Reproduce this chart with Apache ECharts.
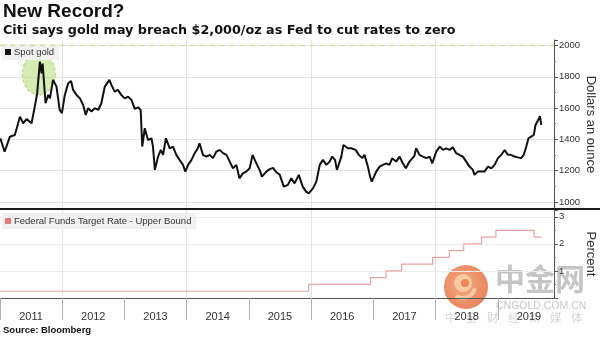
<!DOCTYPE html>
<html>
<head>
<meta charset="utf-8">
<script src="https://cdn.jsdelivr.net/npm/echarts@6/dist/echarts.min.js"></script>
<style>
  html, body { margin: 0; padding: 0; background: #fff; }
  #chart { width: 600px; height: 337px; }
</style>
</head>
<body>
<div id="chart"></div>
<script>
// Spot gold, US$ per ounce
const goldDates = [
  '2011-01-03','2011-01-28','2011-02-28','2011-03-29','2011-04-28','2011-05-17','2011-06-06','2011-07-05',
  '2011-07-24','2011-08-07','2011-08-23','2011-09-02','2011-09-08','2011-09-25','2011-10-11','2011-10-21',
  '2011-11-08','2011-11-28','2011-12-17','2011-12-30',
  '2012-01-16','2012-02-05','2012-02-22','2012-03-05','2012-03-25','2012-04-14','2012-05-03','2012-05-18',
  '2012-06-01','2012-06-21','2012-07-10','2012-07-30','2012-08-18','2012-09-07','2012-10-04','2012-10-16',
  '2012-11-04','2012-11-23','2012-12-13',
  '2013-01-03','2013-01-22','2013-02-11','2013-03-02','2013-03-22','2013-04-06','2013-04-15','2013-04-30',
  '2013-05-19','2013-06-08','2013-06-17','2013-06-28','2013-07-17','2013-08-02','2013-08-15','2013-09-01',
  '2013-09-23','2013-10-12','2013-11-01','2013-11-20','2013-12-10','2013-12-24',
  '2014-01-09','2014-01-29','2014-02-17','2014-03-07','2014-03-17','2014-04-06','2014-04-26','2014-05-16',
  '2014-06-04','2014-06-24','2014-07-13','2014-08-02','2014-08-22','2014-09-10','2014-09-29','2014-10-19',
  '2014-11-06','2014-11-26','2014-12-16',
  '2015-01-05','2015-01-22','2015-02-13','2015-03-04','2015-03-18','2015-04-13','2015-05-02','2015-05-22',
  '2015-06-10','2015-06-30','2015-07-24','2015-08-17','2015-09-06','2015-09-25','2015-10-20','2015-11-12',
  '2015-12-02','2015-12-17',
  '2016-01-11','2016-01-31','2016-02-20','2016-03-10','2016-03-30','2016-04-18','2016-05-03','2016-05-20',
  '2016-05-31','2016-06-26','2016-07-08','2016-08-04','2016-08-24','2016-09-18','2016-10-07','2016-10-27',
  '2016-11-09','2016-11-29','2016-12-12','2016-12-22',
  '2017-01-17','2017-02-06','2017-02-25','2017-03-17','2017-04-05','2017-04-20','2017-05-14','2017-06-03',
  '2017-06-22','2017-07-10','2017-07-31','2017-08-10','2017-08-29','2017-09-08','2017-09-28','2017-10-18',
  '2017-11-07','2017-11-26','2017-12-12',
  '2018-01-04','2018-01-25','2018-02-12','2018-03-03','2018-03-23','2018-04-11','2018-05-01','2018-05-20',
  '2018-06-09','2018-06-29','2018-07-18','2018-08-07','2018-08-16','2018-09-05','2018-09-25','2018-10-14',
  '2018-11-03','2018-11-23','2018-12-12',
  '2019-01-01','2019-01-20','2019-02-09','2019-02-28','2019-03-19','2019-04-08','2019-04-27','2019-05-17',
  '2019-06-01','2019-06-16','2019-06-29','2019-07-14','2019-07-30','2019-08-09','2019-08-19','2019-08-28',
  '2019-09-04','2019-09-12'
];
const goldPrices = [
  1407,1321,1417,1428,1545,1503,1530,1503,
  1609,1695,1897,1822,1884,1631,1684,1662,
  1780,1738,1588,1567,
  1684,1758,1773,1716,1684,1662,1620,1556,
  1599,1578,1599,1588,1631,1737,1780,1748,
  1705,1716,1684,
  1662,1673,1652,1595,1605,1588,1354,1471,
  1396,1407,1354,1205,1290,1333,1301,1407,
  1343,1354,1301,1269,1237,1194,
  1237,1269,1312,1343,1375,1301,1290,1301,
  1280,1322,1333,1312,1301,1258,1215,1237,
  1151,1183,1194,
  1215,1301,1247,1205,1162,1194,1210,1218,
  1190,1175,1098,1109,1151,1119,1173,1098,
  1066,1055,
  1087,1130,1237,1269,1237,1258,1290,1269,
  1205,1290,1364,1343,1343,1333,1301,1280,
  1301,1226,1162,1130,
  1194,1226,1237,1247,1237,1279,1258,1290,
  1247,1215,1258,1269,1295,1343,1301,1290,
  1280,1290,1247,
  1322,1354,1333,1343,1333,1349,1312,1301,
  1290,1258,1226,1205,1173,1194,1194,1194,
  1226,1215,1237,
  1280,1301,1332,1301,1301,1290,1285,1280,
  1301,1354,1407,1417,1428,1492,1503,1530,
  1549,1492
];

// Federal funds target rate, upper bound (%), effective dates of each change
const rateDates = [
  '2011-01-01','2015-12-17','2016-12-15','2017-03-16','2017-06-15','2017-12-14',
  '2018-03-22','2018-06-14','2018-09-27','2018-12-20','2019-08-01','2019-09-13'
];
const rateValues = [0.25, 0.5, 0.75, 1, 1.25, 1.5, 1.75, 2, 2.25, 2.5, 2.25, 2.25];

// 2011 record zone callout
const calloutDates = ['2011-08-17'];
const calloutValues = [1818];
const recordLevel = 2000;

const yearLabels = ['2011','2012','2013','2014','2015','2016','2017','2018','2019'];

// date string -> fractional year
function toYear(s) {
  const d = Date.parse(s + 'T00:00:00Z');
  const y = new Date(d).getUTCFullYear();
  const a = Date.UTC(y, 0, 1), b = Date.UTC(y + 1, 0, 1);
  return y + (d - a) / (b - a);
}

const goldData = goldDates.map((d, i) => [toYear(d), goldPrices[i]]);
const rateData = rateDates.map((d, i) => [toYear(d), rateValues[i]]);
const calloutData = calloutDates.map((d, i) => [toYear(d), calloutValues[i]]);

const X_MIN = 2011, X_MAX = 2019.9;
const FONT = 'Liberation Sans, Arial, sans-serif';
const HEAD_FONT = 'DejaVu Sans, Verdana, sans-serif';
const gridLineColors = ['rgba(0,0,0,0)', '#e3e3e3'];

const chart = echarts.init(document.getElementById('chart'), null, { renderer: 'canvas' });

chart.setOption({
  animation: false,
  backgroundColor: '#ffffff',
  textStyle: { fontFamily: FONT },
  title: [
    {
      text: 'New Record?',
      subtext: 'Citi says gold may breach $2,000/oz as Fed to cut rates to zero',
      left: 1, top: 0, itemGap: 3, padding: [2, 2],
      textStyle: { fontSize: 19, fontWeight: 'bold', color: '#111', fontFamily: FONT },
      subtextStyle: { fontSize: 12.75, fontWeight: 'bold', color: '#111', fontFamily: HEAD_FONT }
    },
    {
      text: 'Source: Bloomberg',
      left: 1, top: 323, padding: [2, 2],
      textStyle: { fontSize: 9.5, fontWeight: 'bold', color: '#111', fontFamily: FONT }
    }
  ],
  legend: [
    {
      data: ['Spot gold'],
      left: 2, top: 44, padding: [3, 5, 3, 3],
      backgroundColor: '#f1f1f1',
      icon: 'rect', itemWidth: 6, itemHeight: 6, itemGap: 4,
      textStyle: { fontSize: 9.5, color: '#333', padding: [0, 0, 0, -2] },
      selectedMode: false
    },
    {
      data: ['Federal Funds Target Rate - Upper Bound'],
      left: 2, top: 213, padding: [3, 5, 3, 3],
      backgroundColor: '#f1f1f1',
      icon: 'rect', itemWidth: 6, itemHeight: 6, itemGap: 4,
      textStyle: { fontSize: 9.5, color: '#333', padding: [0, 0, 0, -2] },
      selectedMode: false
    }
  ],
  grid: [
    { left: 0, right: 46, top: 40, height: 169, outerBoundsMode: 'none', containLabel: false },
    { left: 0, right: 46, top: 210, height: 88, outerBoundsMode: 'none', containLabel: false }
  ],
  xAxis: [
    {
      type: 'value', gridIndex: 0, min: X_MIN, max: X_MAX, interval: 1,
      axisLine: { show: false }, axisTick: { show: false }, axisLabel: { show: false },
      splitLine: { show: true, lineStyle: { color: gridLineColors, width: 1 } }
    },
    {
      type: 'value', gridIndex: 1, min: X_MIN, max: X_MAX, interval: 1,
      axisLine: { show: true, onZero: false, lineStyle: { color: '#555', width: 1 } },
      axisTick: { show: true, inside: false, length: 22, lineStyle: { color: '#b0b0b0', width: 1 } },
      axisLabel: {
        show: true, showMinLabel: true, showMaxLabel: false,
        fontSize: 11, color: '#333', margin: 13,
        align: 'center', padding: [0, 0, 0, 62],
        formatter: v => yearLabels.includes(String(v)) ? String(v) : ''
      },
      splitLine: { show: true, lineStyle: { color: gridLineColors, width: 1 } }
    }
  ],
  yAxis: [
    {
      type: 'value', gridIndex: 0, position: 'right', min: 955, max: 2035,
      name: 'Dollars an ounce', nameLocation: 'middle', nameRotate: -90, nameGap: 30,
      nameMoveOverlap: false,
      nameTextStyle: { fontSize: 13, color: '#333' },
      axisLine: { show: true, lineStyle: { color: '#555', width: 1 } },
      axisTick: { show: true, length: 4, lineStyle: { color: '#555' } },
      minorTick: { show: true, splitNumber: 2, length: 2, lineStyle: { color: '#777' } },
      axisLabel: {
        fontSize: 9.5, color: '#333', margin: 5, showMinLabel: false, showMaxLabel: false,
        formatter: v => String(v)
      },
      splitLine: { show: true, showMinLine: false, showMaxLine: false, lineStyle: { color: '#e6e6e6' } }
    },
    {
      type: 'value', gridIndex: 1, position: 'right', min: 0, max: 3.25, interval: 1,
      name: 'Percent', nameLocation: 'middle', nameRotate: -90, nameGap: 30,
      nameMoveOverlap: false,
      nameTextStyle: { fontSize: 13, color: '#333' },
      axisLine: { show: true, lineStyle: { color: '#555', width: 1 } },
      axisTick: { show: true, length: 4, lineStyle: { color: '#555' } },
      minorTick: { show: true, splitNumber: 2, length: 2, lineStyle: { color: '#777' } },
      axisLabel: {
        fontSize: 9.5, color: '#333', margin: 5, showMinLabel: false, showMaxLabel: false,
        formatter: v => String(v)
      },
      splitLine: { show: true, showMinLine: false, showMaxLine: false, lineStyle: { color: '#ececec' } }
    }
  ],
  series: [
    {
      name: 'record-zone',
      type: 'scatter', xAxisIndex: 0, yAxisIndex: 0,
      data: calloutData,
      symbol: 'circle', symbolSize: [33, 42],
      itemStyle: { color: 'rgba(168,214,96,0.6)', borderColor: '#9cc95e', borderWidth: 1, borderType: [3, 2] },
      silent: true, z: 1
    },
    {
      name: 'Spot gold',
      type: 'line', xAxisIndex: 0, yAxisIndex: 0,
      data: goldData,
      symbol: 'none',
      lineStyle: { color: '#111', width: 2 },
      itemStyle: { color: '#111' },
      z: 3,
      markLine: {
        silent: true, symbol: ['none', 'none'],
        label: { show: false },
        lineStyle: { color: '#cde0a4', type: [5, 5], width: 1.3 },
        data: [{ yAxis: recordLevel }]
      }
    },
    {
      name: 'Federal Funds Target Rate - Upper Bound',
      type: 'line', xAxisIndex: 1, yAxisIndex: 1,
      data: rateData,
      step: 'end',
      symbol: 'none',
      lineStyle: { color: '#e9a2a2', width: 1.2 },
      itemStyle: { color: '#e07c7c' },
      z: 3
    }
  ],
  graphic: [
    // panel separator
    {
      type: 'line', z: 50,
      shape: { x1: 0, y1: 209, x2: 600, y2: 209 },
      style: { stroke: '#1c1c1c', lineWidth: 2 }
    },
    // publisher watermark
    {
      type: 'group', z: 60, silent: true,
      children: [
        {
          type: 'circle', shape: { cx: 466, cy: 287, r: 22 },
          style: {
            fill: new echarts.graphic.RadialGradient(0.45, 0.45, 0.6, [
              { offset: 0, color: 'rgba(244,150,95,0.8)' },
              { offset: 1, color: 'rgba(226,100,55,0.8)' }
            ])
          }
        },
        {
          type: 'circle', shape: { cx: 463, cy: 283, r: 9 },
          style: { fill: 'rgba(250,210,170,0.85)' }
        },
        {
          type: 'circle', shape: { cx: 465, cy: 283, r: 4 },
          style: { fill: 'rgba(236,128,75,0.9)' }
        },
        {
          type: 'arc', shape: { cx: 463, cy: 286, r: 12, startAngle: 0.2, endAngle: 2.2 },
          style: { stroke: 'rgba(250,210,170,0.85)', lineWidth: 4, fill: null }
        },
        {
          type: 'text', left: 495, top: 264,
          style: {
            text: '中金网', fontSize: 30, fontWeight: 'bold',
            fontFamily: 'Noto Sans CJK SC', fill: 'rgba(140,140,140,0.5)'
          }
        },
        {
          type: 'text', left: 496, top: 301,
          style: {
            text: 'CNGOLD.COM.CN', fontSize: 10.5,
            fontFamily: FONT, fill: 'rgba(150,150,150,0.55)'
          }
        },
        ...['中','金','财','经','新','媒','体'].map((ch, i) => ({
          type: 'text', left: 445 + i * 21, top: 312,
          style: { text: ch, fontSize: 11.5, fontFamily: 'Noto Sans CJK SC', fill: 'rgba(160,160,160,0.45)' }
        }))
      ]
    }
  ]
});
</script>
</body>
</html>
